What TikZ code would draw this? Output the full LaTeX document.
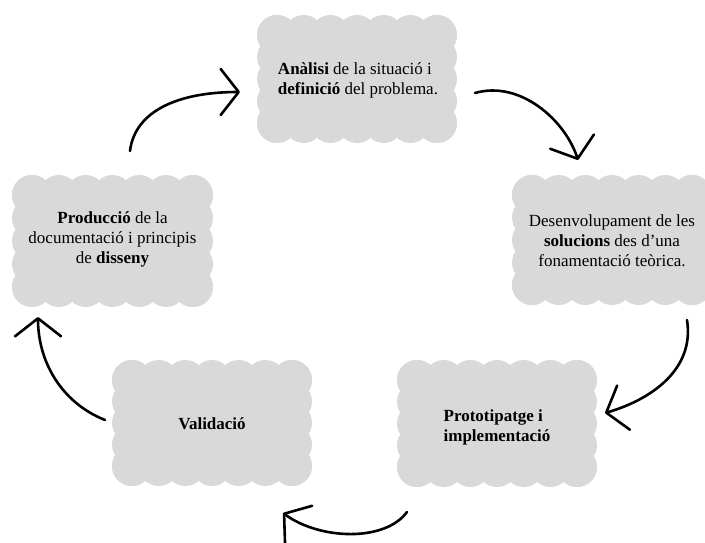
\documentclass[tikz,border=0pt]{standalone}
\usepackage{fontspec}
\setmainfont{Liberation Serif}
\usetikzlibrary{arrows.meta}
\definecolor{boxgray}{RGB}{217,217,217}
\newcommand\scallopbox[6]{% x0 y0 x1 y1 nx ny
  \fill[boxgray] ({#1+20},{#2+20}) rectangle ({#3-20},{#4-20});
  \foreach \i in {0,...,#5}{
    \fill[boxgray] ({#1+20+\i*(#3-#1-40)/#5},{#2+20}) circle[radius=20pt];
    \fill[boxgray] ({#1+20+\i*(#3-#1-40)/#5},{#4-20}) circle[radius=20pt];
  }
  \foreach \j in {0,...,#6}{
    \fill[boxgray] ({#1+20},{#2+20+\j*(#4-#2-40)/#6}) circle[radius=20pt];
    \fill[boxgray] ({#3-20},{#2+20+\j*(#4-#2-40)/#6}) circle[radius=20pt];
  }
}
\tikzset{
  txt/.style={align=center, inner sep=0pt, font=\fontsize{17}{20}\selectfont},
  txtl/.style={align=left, inner sep=0pt, font=\fontsize{17}{20}\selectfont},
  cyc/.style={line width=2.6pt, line cap=round, line join=round,
    -{Straight Barb[length=18pt,width=46pt,line join=round,line cap=round]}}
}
\begin{document}
\begin{tikzpicture}[x=1pt,y=-1pt]
\useasboundingbox (0,0) rectangle (705,542);
\clip (0,0) rectangle (705,542);
\scallopbox{257}{15}{457}{143}{6}{4}
\scallopbox{512}{175}{712}{305}{6}{4}
\scallopbox{12}{175}{213}{307}{6}{4}
\scallopbox{112}{360}{312}{486}{6}{4}
\scallopbox{397}{360}{597}{487}{6}{4}

\node[txtl] (n1) at (358,80) {\textbf{Anàlisi} de la situació i\\\textbf{definició} del problema.};
\node[txt] (n2) at (612,241) {Desenvolupament de les\\\textbf{solucions} des d’una\\fonamentació teòrica.};
\node[txt] (n3) at (112.5,239) {\textbf{Producció} de la\\documentació i principis\\de \textbf{disseny}};
\node[txt] (n4) at (212,424) {\textbf{Validació}};
\node[txtl] (n5) at (497,427) {\textbf{Prototipatge i}\\\textbf{implementació}};

\coordinate (a1) at (130,151);
\coordinate (a2) at (240,92);
\coordinate (b1) at (475,93);
\coordinate (b2) at (578,160);
\coordinate (c1) at (687,320);
\coordinate (c2) at (605,413);
\coordinate (d1) at (407,512);
\coordinate (d2) at (283,513);
\coordinate (e1) at (105,420);
\coordinate (e2) at (38,317);

\draw[cyc] (a1) .. controls (135,110) and (180,92) .. (a2);
\draw[cyc] (b1) .. controls (520,80) and (565,120) .. (b2);
\draw[cyc] (c1) .. controls (695,370) and (650,400) .. (c2);
\draw[cyc] (d1) .. controls (385,542) and (320,540) .. (d2);
\draw[cyc] (e1) .. controls (60,402) and (38,360) .. (e2);
\end{tikzpicture}
\end{document}
